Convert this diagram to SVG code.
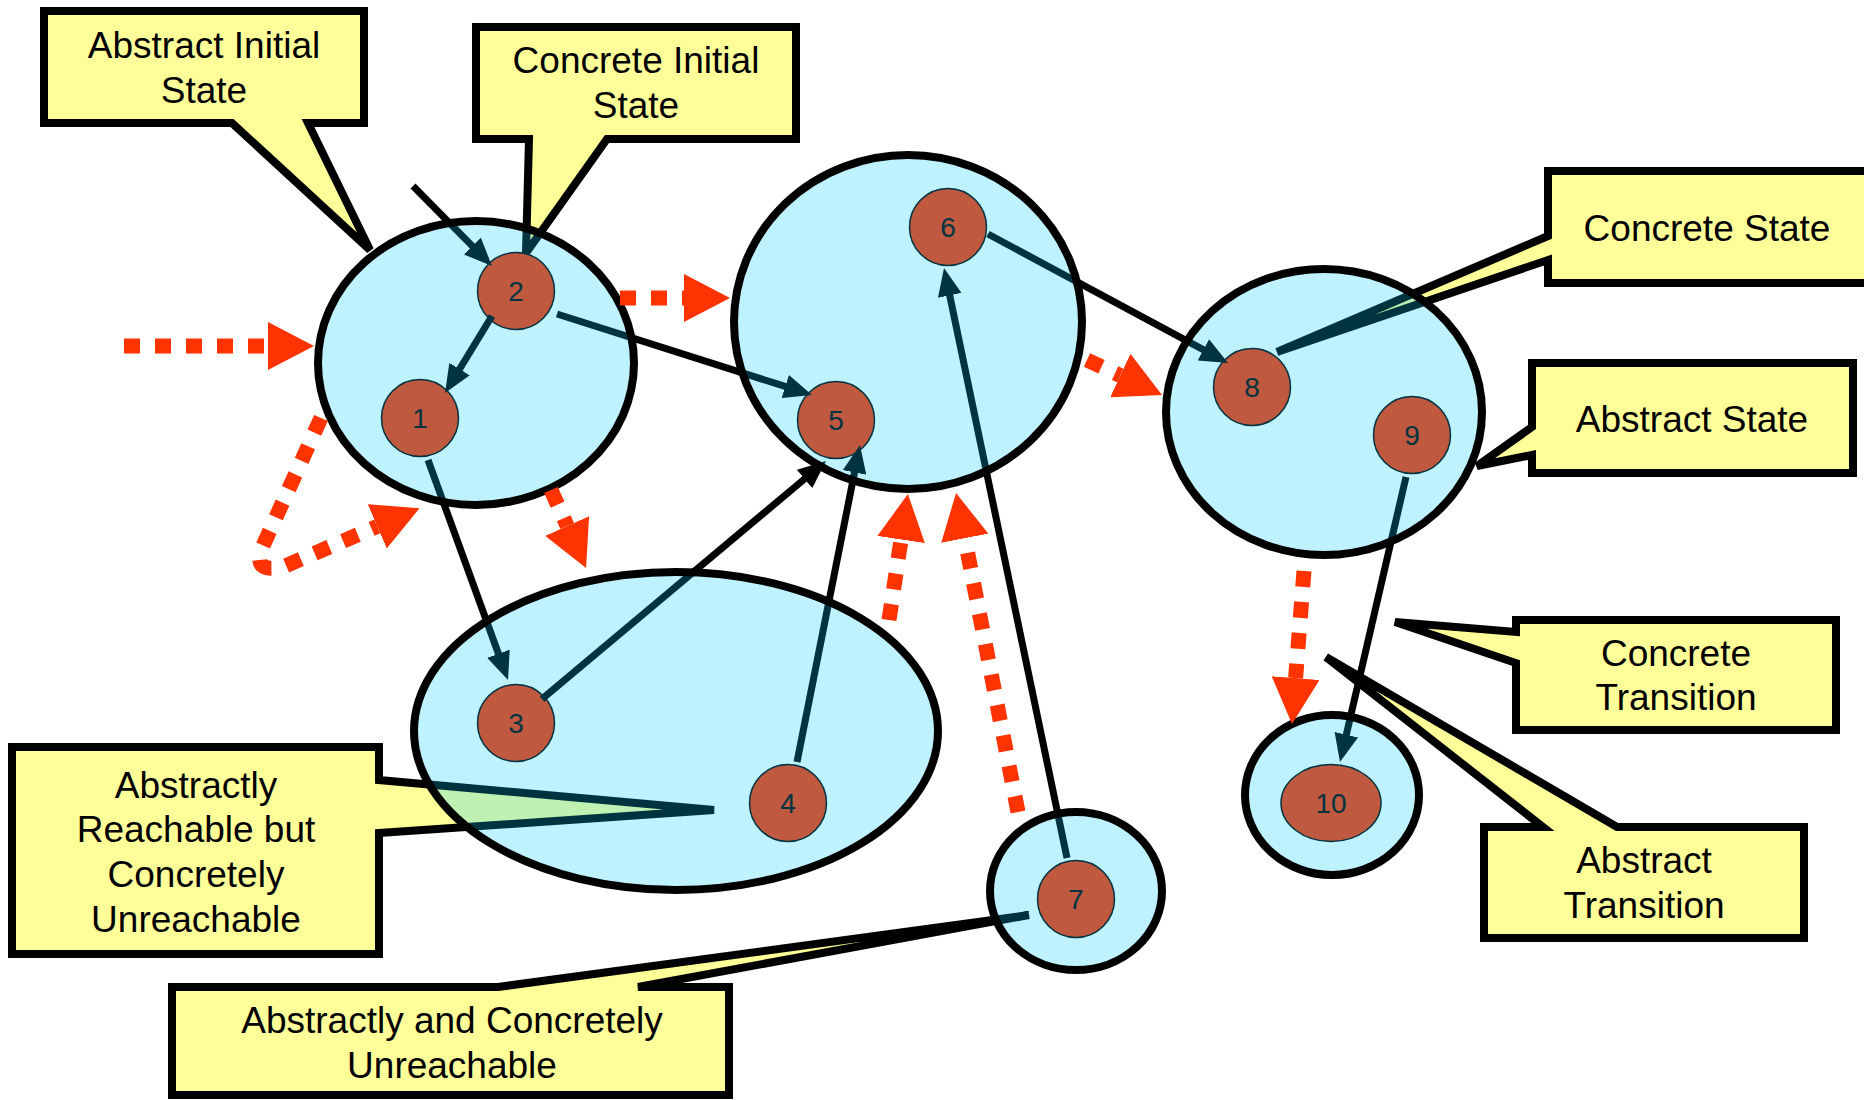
<svg xmlns="http://www.w3.org/2000/svg" width="1864" height="1100" viewBox="0 0 1864 1100">
  <style>
    .callout { fill: #FFFF99; stroke: #000; stroke-width: 8; stroke-linejoin: miter; }
    .ctext { font-family: "Liberation Sans", Arial, sans-serif; font-size: 37px; fill: #000; text-anchor: middle; }
    .cstate { fill: #FF3300; stroke: #000; stroke-width: 1.5; }
    .clabel { font-family: "Liberation Sans", Arial, sans-serif; font-size: 28px; fill: #000; text-anchor: middle; }
    .ctrans { fill: none; stroke: #000; stroke-width: 7; marker-end: url(#arrow); }
    .astate { fill: #00CCFF; fill-opacity: 0.25; stroke: #000; stroke-width: 8; }
    .atrans { fill: none; stroke: #FF3300; stroke-width: 15; stroke-dasharray: 16 15; marker-end: url(#bigarrow); }
  </style>
  <defs>
    <marker id="arrow" viewBox="0 0 28 24" refX="4" refY="12" markerWidth="28" markerHeight="24" markerUnits="userSpaceOnUse" orient="auto">
      <path d="M0,0 L28,12 L0,24 Z" fill="#000"/>
    </marker>
    <marker id="bigarrow" viewBox="0 0 46 48" refX="0" refY="24" markerWidth="46" markerHeight="48" markerUnits="userSpaceOnUse" orient="auto">
      <path d="M0,0 L46,24 L0,48 Z" fill="#FF3300"/>
    </marker>
  </defs>
  <rect width="1864" height="1100" fill="#fff"/>

  <!-- legend callouts -->
  <g id="callouts">
    <g id="callout-abstract-initial">
      <path class="callout" d="M44,11 H364 V123 H308 L370,250 L232,123 H44 Z"/>
      <text class="ctext" x="204" y="58">Abstract Initial</text>
      <text class="ctext" x="204" y="103">State</text>
    </g>
    <g id="callout-concrete-initial">
      <path class="callout" d="M476,27 H796 V139 H607 L526,253 L529,139 H476 Z"/>
      <text class="ctext" x="636" y="73">Concrete Initial</text>
      <text class="ctext" x="636" y="118">State</text>
    </g>
    <g id="callout-concrete-state">
      <path class="callout" d="M1548,171 H1880 V283 H1548 V260 L1277,352 L1548,236 Z"/>
      <text class="ctext" x="1707" y="241">Concrete State</text>
    </g>
    <g id="callout-abstract-state">
      <path class="callout" d="M1532,363 H1853 V473 H1532 V455 L1477,466 L1532,427 Z"/>
      <text class="ctext" x="1692" y="432">Abstract State</text>
    </g>
    <g id="callout-concrete-transition">
      <path class="callout" d="M1516,620 H1836 V730 H1516 V663 L1395,622 L1516,632 Z"/>
      <text class="ctext" x="1676" y="666">Concrete</text>
      <text class="ctext" x="1676" y="710">Transition</text>
    </g>
    <g id="callout-abstract-transition">
      <path class="callout" d="M1484,827 H1543 L1326,657 L1617,827 H1804 V938 H1484 Z"/>
      <text class="ctext" x="1644" y="873">Abstract</text>
      <text class="ctext" x="1644" y="918">Transition</text>
    </g>
    <g id="callout-abstractly-reachable">
      <path class="callout" d="M12,747 H379 V780 L714,810 L379,833 V954 H12 Z"/>
      <text class="ctext" x="196" y="798">Abstractly</text>
      <text class="ctext" x="196" y="842">Reachable but</text>
      <text class="ctext" x="196" y="887">Concretely</text>
      <text class="ctext" x="196" y="932">Unreachable</text>
    </g>
    <g id="callout-unreachable">
      <path class="callout" d="M172,987 H498 L1029,915 L638,987 H729 V1095 H172 Z"/>
      <text class="ctext" x="452" y="1033">Abstractly and Concretely</text>
      <text class="ctext" x="452" y="1078">Unreachable</text>
    </g>
  </g>

  <!-- concrete states -->
  <g id="s1"><circle class="cstate" cx="420" cy="418" r="38.5"/><text class="clabel" x="420" y="428">1</text></g>
  <g id="s2"><circle class="cstate" cx="516" cy="291" r="38.5"/><text class="clabel" x="516" y="301">2</text></g>
  <g id="s3"><circle class="cstate" cx="516" cy="723" r="38.5"/><text class="clabel" x="516" y="733">3</text></g>
  <g id="s4"><circle class="cstate" cx="788" cy="803" r="38.5"/><text class="clabel" x="788" y="813">4</text></g>
  <g id="s5"><circle class="cstate" cx="836" cy="420" r="38.5"/><text class="clabel" x="836" y="430">5</text></g>
  <g id="s6"><circle class="cstate" cx="948" cy="227" r="38.5"/><text class="clabel" x="948" y="237">6</text></g>
  <g id="s7"><circle class="cstate" cx="1076" cy="899" r="38.5"/><text class="clabel" x="1076" y="909">7</text></g>
  <g id="s8"><circle class="cstate" cx="1252" cy="387" r="38.5"/><text class="clabel" x="1252" y="397">8</text></g>
  <g id="s9"><circle class="cstate" cx="1412" cy="435" r="38.5"/><text class="clabel" x="1412" y="445">9</text></g>
  <g id="s10"><ellipse class="cstate" cx="1331" cy="803" rx="50" ry="38.5"/><text class="clabel" x="1331" y="813">10</text></g>

  <!-- concrete transitions -->
  <g id="concrete-transitions">
    <path class="ctrans" d="M413,186 L475.1,248.9"/>
    <path class="ctrans" d="M492,316 L457.5,372.5"/>
    <path class="ctrans" d="M557,314 L789.1,387.7"/>
    <path class="ctrans" d="M428,460 L499.8,657.5"/>
    <path class="ctrans" d="M542,699 L807.6,476.4"/>
    <path class="ctrans" d="M797,762 L855.3,468.5"/>
    <path class="ctrans" d="M1067,858 L948.9,291.5"/>
    <path class="ctrans" d="M988,234 L1206.9,351.7"/>
    <path class="ctrans" d="M1406,477 L1345.4,738.6"/>
  </g>

  <!-- abstract states (translucent, tint everything beneath) -->
  <g id="abstract-states">
    <ellipse id="A1" class="astate" cx="476" cy="363" rx="158" ry="142"/>
    <ellipse id="A2" class="astate" cx="908" cy="322" rx="174" ry="167"/>
    <ellipse id="A3" class="astate" cx="1324" cy="412" rx="158" ry="143"/>
    <ellipse id="A4" class="astate" cx="676" cy="731" rx="262" ry="159"/>
    <ellipse id="A5" class="astate" cx="1076" cy="891" rx="86" ry="79"/>
    <ellipse id="A6" class="astate" cx="1332" cy="795" rx="87" ry="80"/>
  </g>

  <!-- abstract transitions -->
  <g id="abstract-transitions">
    <path class="atrans" d="M124,346 L268,346"/>
    <path class="atrans" d="M620,298 L684,298"/>
    <path class="atrans" d="M1087,360 L1120.3,375.5"/>
    <path class="atrans" d="M551,490 L567.2,526"/>
    <path class="atrans" d="M321,418 L262,548 Q252,575 285,566 L377.3,526.4"/>
    <path class="atrans" d="M889,620 L901.1,539.5"/>
    <path class="atrans" d="M1018,812 L964.8,538.2"/>
    <path class="atrans" d="M1304,571 L1295.6,678.1"/>
  </g>
</svg>
